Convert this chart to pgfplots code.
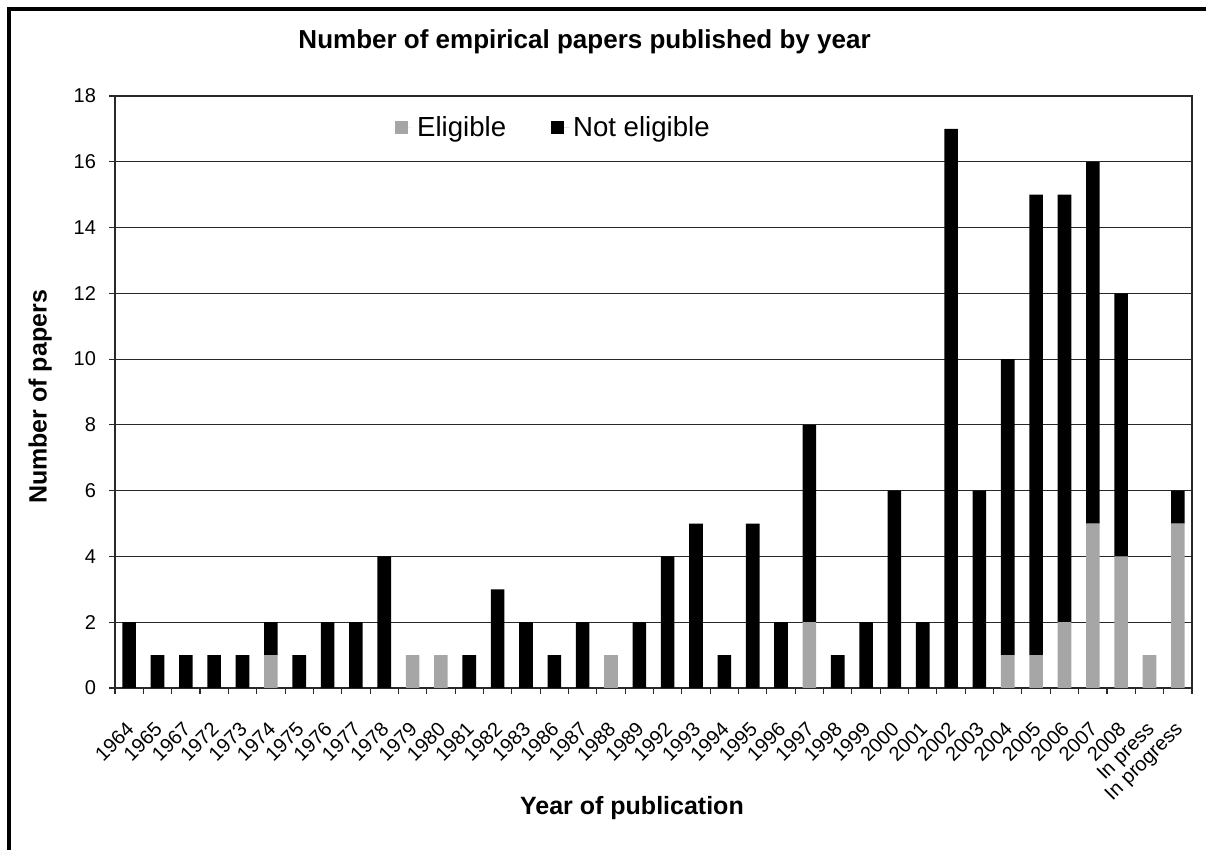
\documentclass[border=0pt]{standalone}
\usepackage{fontspec}
\setmainfont{Liberation Sans}
\usepackage{pgfplots}
\pgfplotsset{compat=1.18}
\definecolor{elig}{RGB}{166,166,166}
\definecolor{gridc}{RGB}{40,40,40}
\begin{document}
\begin{tikzpicture}
\useasboundingbox (0,0) rectangle (603pt,425pt);
\draw[line width=1.75pt] (4.5pt,0) -- (4.5pt,420.5pt) -- (603pt,420.5pt);
\begin{axis}[
    at={(57.5pt,81pt)}, anchor=south west,
    scale only axis, width=538.5pt, height=296pt,
    ybar stacked, bar width=0.48,
    xmin=-0.5, xmax=37.5, ymin=0, ymax=18,
    % major ticks carry the labels, minor ticks draw the marks
    ytick={0,2,...,18},
    minor ytick={0,2,...,18},
    xtick={0,...,37},
    xticklabels={1964,1965,1967,1972,1973,1974,1975,1976,1977,1978,1979,1980,1981,1982,1983,1986,1987,1988,1989,1992,1993,1994,1995,1996,1997,1998,1999,2000,2001,2002,2003,2004,2005,2006,2007,2008,In press,In progress},
    minor xtick={-0.5,0.5,...,37.5},
    tick align=outside, tick pos=left,
    major tick length=0pt, minor tick length=3pt,
    tick style={gridc, line width=0.55pt},
    axis line style={gridc, line width=0.55pt},
    ymajorgrids, major grid style={gridc, line width=0.55pt},
    /pgf/number format/assume math mode=true,
    tick label style={font=\fontsize{10}{11}\selectfont},
    yticklabel style={xshift=-6pt},
    xticklabel style={rotate=45, anchor=north east, inner sep=1pt, xshift=-11.9pt, yshift=-9pt},
    title={Number of empirical papers published by year},
    every axis title shift=0pt,
    title style={font=\fontsize{13}{15}\selectfont\bfseries, at={(axis description cs:0.436,1.091)}, anchor=center},
    xlabel={Year of publication},
    xlabel style={font=\fontsize{12.5}{14}\selectfont\bfseries, at={(axis description cs:0.48,-0.2027)}, anchor=center},
    ylabel={Number of papers},
    ylabel style={font=\fontsize{12.5}{14}\selectfont\bfseries, at={(axis description cs:-0.0696,0.4916)}, anchor=center},
    legend columns=2,
    legend style={at={(0.408,0.946)}, anchor=center, draw=none, fill=none,
        font=\fontsize{13.8}{15}\selectfont,
        /tikz/every even column/.append style={column sep=20.5pt}},
]
\addplot[fill=elig, draw=none,
    legend image code/.code={\path (0pt,0pt) -- (9pt,0pt);
        \fill[elig] (0pt,-3.25pt) rectangle (6.5pt,3.25pt);}]
    coordinates {(0,0) (1,0) (2,0) (3,0) (4,0) (5,1) (6,0) (7,0) (8,0) (9,0)
    (10,1) (11,1) (12,0) (13,0) (14,0) (15,0) (16,0) (17,1) (18,0) (19,0)
    (20,0) (21,0) (22,0) (23,0) (24,2) (25,0) (26,0) (27,0) (28,0) (29,0)
    (30,0) (31,1) (32,1) (33,2) (34,5) (35,4) (36,1) (37,5)};
\addplot[fill=black, draw=none,
    legend image code/.code={\path (0pt,0pt) -- (9pt,0pt);
        \fill[black] (0pt,-3.25pt) rectangle (6.5pt,3.25pt);}]
    coordinates {(0,2) (1,1) (2,1) (3,1) (4,1) (5,1) (6,1) (7,2) (8,2) (9,4)
    (10,0) (11,0) (12,1) (13,3) (14,2) (15,1) (16,2) (17,0) (18,2) (19,4)
    (20,5) (21,1) (22,5) (23,2) (24,6) (25,1) (26,2) (27,6) (28,2) (29,17)
    (30,6) (31,9) (32,14) (33,13) (34,11) (35,8) (36,0) (37,1)};
\legend{Eligible, Not eligible}
\end{axis}
\end{tikzpicture}
\end{document}
